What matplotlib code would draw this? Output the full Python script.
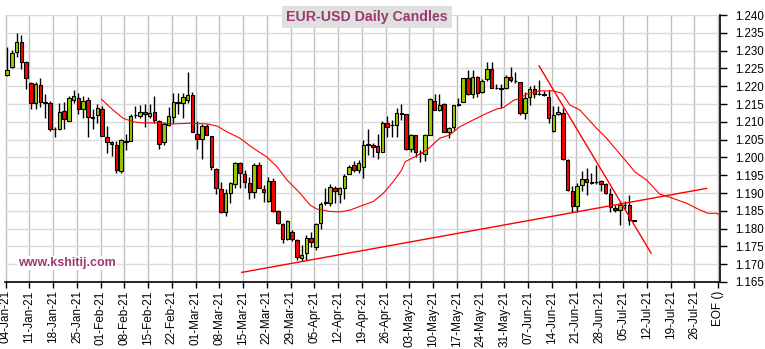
import numpy as np
import matplotlib.pyplot as plt
from matplotlib.patches import Rectangle

plt.rcParams['font.family'] = ['Liberation Sans', 'DejaVu Sans']

# daily OHLC, one entry per trading day starting 04-Jan-21
opens = [1.2231, 1.2253, 1.2297, 1.2325, 1.2269, 1.2210, 1.2152, 1.2202, 1.2156, 1.2152,
         1.2081, 1.2079, 1.2131, 1.2103, 1.2161, 1.2166, 1.2137, 1.2161, 1.2114, 1.2120,
         1.2136, 1.2058, 1.2043, 1.2034, 1.1963, 1.2042, 1.2047, 1.2118, 1.2117, 1.2127,
         1.2117, 1.2127, 1.2101, 1.2042, 1.2092, 1.2113, 1.2156, 1.2152, 1.2161, 1.2175,
         1.2066, 1.2051, 1.2088, 1.2061, 1.1967, 1.1910, 1.1846, 1.1901, 1.1925, 1.1983,
         1.1952, 1.1927, 1.1904, 1.1979, 1.1912, 1.1878, 1.1934, 1.1849, 1.1812, 1.1770,
         1.1791, 1.1768, 1.1718, 1.1731, 1.1773, 1.1749, 1.1815, 1.1872, 1.1871, 1.1913,
         1.1897, 1.1913, 1.1952, 1.1979, 1.1966, 1.1974, 1.2035, 1.2034, 1.2032, 1.2016,
         1.2096, 1.2090, 1.2091, 1.2123, 1.2121, 1.2023, 1.2063, 1.2013, 1.2009, 1.2063,
         1.2159, 1.2133, 1.2149, 1.2072, 1.2084, 1.2147, 1.2157, 1.2222, 1.2177, 1.2227,
         1.2183, 1.2220, 1.2247, 1.2195, 1.2195, 1.2194, 1.2225, 1.2216, 1.2211, 1.2126,
         1.2170, 1.2191, 1.2179, 1.2178, 1.2171, 1.2074, 1.2122, 1.2126, 1.1993, 1.1906,
         1.1863, 1.1922, 1.1938, 1.1929, 1.1931, 1.1934, 1.1925, 1.1896, 1.1858, 1.1852,
         1.1866, 1.1866, 1.1823]
highs = [1.2311, 1.2302, 1.2349, 1.2344, 1.2271, 1.2213, 1.2213, 1.2222, 1.2177, 1.2159,
         1.2086, 1.2154, 1.2157, 1.2172, 1.2189, 1.2180, 1.2172, 1.2170, 1.2135, 1.2150,
         1.2145, 1.2088, 1.2047, 1.2045, 1.2052, 1.2066, 1.2121, 1.2143, 1.2146, 1.2149,
         1.2150, 1.2172, 1.2105, 1.2100, 1.2142, 1.2180, 1.2180, 1.2180, 1.2241, 1.2183,
         1.2101, 1.2095, 1.2093, 1.2061, 1.1970, 1.1930, 1.1910, 1.1930, 1.1988, 1.1988,
         1.1964, 1.1945, 1.1983, 1.1988, 1.1922, 1.1945, 1.1942, 1.1852, 1.1815, 1.1824,
         1.1796, 1.1770, 1.1754, 1.1782, 1.1790, 1.1815, 1.1876, 1.1913, 1.1925, 1.1920,
         1.1918, 1.1954, 1.1979, 1.1990, 1.1993, 1.2049, 1.2080, 1.2041, 1.2067, 1.2101,
         1.2116, 1.2105, 1.2138, 1.2149, 1.2121, 1.2066, 1.2064, 1.2020, 1.2065, 1.2168,
         1.2177, 1.2178, 1.2152, 1.2084, 1.2147, 1.2168, 1.2224, 1.2245, 1.2245, 1.2230,
         1.2220, 1.2267, 1.2267, 1.2205, 1.2205, 1.2231, 1.2255, 1.2240, 1.2213, 1.2185,
         1.2200, 1.2203, 1.2217, 1.2186, 1.2189, 1.2144, 1.2144, 1.2138, 1.1996, 1.1920,
         1.1927, 1.1962, 1.1969, 1.1957, 1.1979, 1.1937, 1.1927, 1.1913, 1.1865, 1.1877,
         1.1877, 1.1894, 1.1824]
lows = [1.2230, 1.2250, 1.2283, 1.2247, 1.2193, 1.2135, 1.2137, 1.2141, 1.2112, 1.2075,
        1.2056, 1.2078, 1.2079, 1.2103, 1.2154, 1.2121, 1.2110, 1.2058, 1.2080, 1.2097,
        1.2060, 1.2013, 1.2004, 1.1957, 1.1955, 1.2021, 1.2047, 1.2110, 1.2110, 1.2084,
        1.2110, 1.2096, 1.2025, 1.2036, 1.2087, 1.2096, 1.2122, 1.2110, 1.2152, 1.2072,
        1.2025, 1.1995, 1.2063, 1.1965, 1.1897, 1.1843, 1.1836, 1.1871, 1.1913, 1.1913,
        1.1913, 1.1884, 1.1886, 1.1913, 1.1876, 1.1876, 1.1848, 1.1814, 1.1759, 1.1768,
        1.1764, 1.1712, 1.1709, 1.1712, 1.1749, 1.1740, 1.1798, 1.1866, 1.1864, 1.1871,
        1.1871, 1.1882, 1.1952, 1.1958, 1.1956, 1.1943, 1.2007, 1.2002, 1.1995, 1.2014,
        1.2058, 1.2058, 1.2058, 1.2105, 1.2020, 1.2016, 1.2002, 1.1988, 1.1990, 1.2062,
        1.2133, 1.2130, 1.2070, 1.2054, 1.2078, 1.2145, 1.2155, 1.2175, 1.2166, 1.2171,
        1.2180, 1.2215, 1.2194, 1.2192, 1.2138, 1.2192, 1.2213, 1.2210, 1.2119, 1.2107,
        1.2148, 1.2166, 1.2175, 1.2172, 1.2096, 1.2072, 1.2119, 1.1993, 1.1905, 1.1848,
        1.1848, 1.1905, 1.1894, 1.1925, 1.1925, 1.1905, 1.1896, 1.1848, 1.1848, 1.1810,
        1.1855, 1.1810, 1.1821]
closes = [1.2245, 1.2294, 1.2325, 1.2269, 1.2222, 1.2152, 1.2206, 1.2157, 1.2152, 1.2079,
          1.2079, 1.2127, 1.2107, 1.2166, 1.2172, 1.2135, 1.2158, 1.2113, 1.2112, 1.2139,
          1.2060, 1.2044, 1.2038, 1.1965, 1.2048, 1.2047, 1.2117, 1.2120, 1.2127, 1.2122,
          1.2125, 1.2106, 1.2037, 1.2094, 1.2116, 1.2156, 1.2153, 1.2170, 1.2176, 1.2072,
          1.2051, 1.2088, 1.2063, 1.1972, 1.1913, 1.1848, 1.1899, 1.1927, 1.1983, 1.1955,
          1.1930, 1.1904, 1.1979, 1.1915, 1.1904, 1.1934, 1.1849, 1.1815, 1.1770, 1.1821,
          1.1770, 1.1719, 1.1726, 1.1773, 1.1763, 1.1812, 1.1869, 1.1874, 1.1916, 1.1905,
          1.1913, 1.1948, 1.1974, 1.1966, 1.1985, 1.2035, 1.2037, 1.2030, 1.2016, 1.2096,
          1.2086, 1.2092, 1.2124, 1.2125, 1.2023, 1.2063, 1.2014, 1.2012, 1.2063, 1.2163,
          1.2133, 1.2147, 1.2072, 1.2082, 1.2147, 1.2150, 1.2222, 1.2177, 1.2227, 1.2182,
          1.2215, 1.2247, 1.2194, 1.2194, 1.2192, 1.2225, 1.2217, 1.2214, 1.2126, 1.2166,
          1.2191, 1.2178, 1.2177, 1.2176, 1.2110, 1.2119, 1.2128, 1.1995, 1.1908, 1.1863,
          1.1920, 1.1938, 1.1930, 1.1930, 1.1932, 1.1925, 1.1899, 1.1860, 1.1851, 1.1866,
          1.1867, 1.1824, 1.1822]

week_labels = ['04-Jan-21', '11-Jan-21', '18-Jan-21', '25-Jan-21', '01-Feb-21', '08-Feb-21',
               '15-Feb-21', '22-Feb-21', '01-Mar-21', '08-Mar-21', '15-Mar-21', '22-Mar-21',
               '29-Mar-21', '05-Apr-21', '12-Apr-21', '19-Apr-21', '26-Apr-21', '03-May-21',
               '10-May-21', '17-May-21', '24-May-21', '31-May-21', '07-Jun-21', '14-Jun-21',
               '21-Jun-21', '28-Jun-21', '05-Jul-21', '12-Jul-21', '19-Jul-21', '26-Jul-21',
               'EOF ()']

# displaced moving average (day index, value)
ma_days = [20.2, 22.6, 24.7, 26.8, 28.9, 31.9, 35.2, 38.8, 42.4, 44.5, 46.6, 49.3, 52.1,
           54.9, 57.1, 59.2, 62.0, 64.1, 65.5, 68.3, 70.4, 72.5, 75.3, 77.4, 79.5, 81.6,
           83.4, 84.1, 86.2, 88.7, 91.4, 93.5, 95.6, 98.4, 101.3, 103.4, 104.8, 106.9,
           108.3, 109.7, 112.5, 115.3, 117.1, 118.8, 120.9, 124.4, 126.5, 130.7, 132.5,
           134.9, 137.7, 140.5, 143.4, 146.2, 147.9, 149.7, 150.4]
ma_vals = [1.2163, 1.2133, 1.2110, 1.2100, 1.2097, 1.2097, 1.2094, 1.2096, 1.2094, 1.2088,
           1.2072, 1.2054, 1.2026, 1.2002, 1.1974, 1.1937, 1.1899, 1.1866, 1.1855, 1.1848,
           1.1847, 1.1852, 1.1866, 1.1876, 1.1899, 1.1932, 1.1965, 1.1988, 1.2002, 1.2021,
           1.2054, 1.2063, 1.2086, 1.2105, 1.2124, 1.2136, 1.2140, 1.2160, 1.2166, 1.2178,
           1.2187, 1.2187, 1.2180, 1.2147, 1.2133, 1.2082, 1.2054, 1.1988, 1.1959, 1.1937,
           1.1897, 1.1885, 1.1871, 1.1852, 1.1843, 1.1843, 1.1838]

support_days = [49.7, 147.6]
support_vals = [1.1677, 1.1913]
resist_days = [112.3, 135.9]
resist_vals = [1.2257, 1.1731]

up_col = '#99cc00'
down_col = '#ff0000'
txt_col = '#9c3a6e'

fig = plt.figure(figsize=(7.65, 3.49), dpi=100)
ax = fig.add_axes([5 / 765, 1 - 282 / 349, 715 / 765, 267 / 349])

# candles sit a little right of the day gridline
off = 0.3
for i, (o, h, l, c) in enumerate(zip(opens, highs, lows, closes)):
    ax.vlines(i + off, l, h, color='black', lw=1, zorder=3)
    col = up_col if c >= o else down_col
    ax.add_patch(Rectangle((i + off - 0.36, min(o, c)), 0.72, abs(c - o),
                           facecolor=col, edgecolor='black', lw=0.8, zorder=4))

ax.plot(ma_days, ma_vals, color='red', lw=0.8, zorder=5)
ax.plot(support_days, support_vals, color='red', lw=1, zorder=5)
ax.plot(resist_days, resist_vals, color='red', lw=1, zorder=5)

ax.set_xlim(-0.15, 150.4)
ax.set_ylim(1.165, 1.240)

ax.set_xticks(np.arange(0, 151, 5))
ax.set_xticklabels(week_labels, rotation=90)
yt = np.arange(1.165, 1.2401, 0.005)
ax.set_yticks(yt)
ax.set_yticklabels(['%.3f' % v for v in yt])
ax.yaxis.tick_right()

ax.tick_params(axis='x', length=4, width=1, labelsize=8.5, pad=2)
ax.tick_params(axis='y', length=5, width=1, labelsize=8.3, pad=6)

ax.set_axisbelow(True)
ax.xaxis.grid(True, color='#c0c0c0', lw=1)
ax.yaxis.grid(True, color='#dadada', lw=1)

ax.spines['left'].set_visible(False)
ax.spines['top'].set_visible(False)
ax.spines['right'].set_linewidth(1.2)
ax.spines['bottom'].set_linewidth(1.2)

ax.text(0.087, 0.071, 'www.kshitij.com', transform=ax.transAxes, ha='center', va='center',
        fontsize=9, fontweight='bold', color=txt_col, zorder=6,
        bbox=dict(facecolor='white', edgecolor='none', pad=1))

fig.text(0.48, 0.951, 'EUR-USD Daily Candles', ha='center', va='center', fontsize=10.2,
         fontweight='bold', color=txt_col,
         bbox=dict(facecolor='#e0e0e0', edgecolor='none', boxstyle='square,pad=0.3'))

fig.savefig('out.png', dpi=100)
